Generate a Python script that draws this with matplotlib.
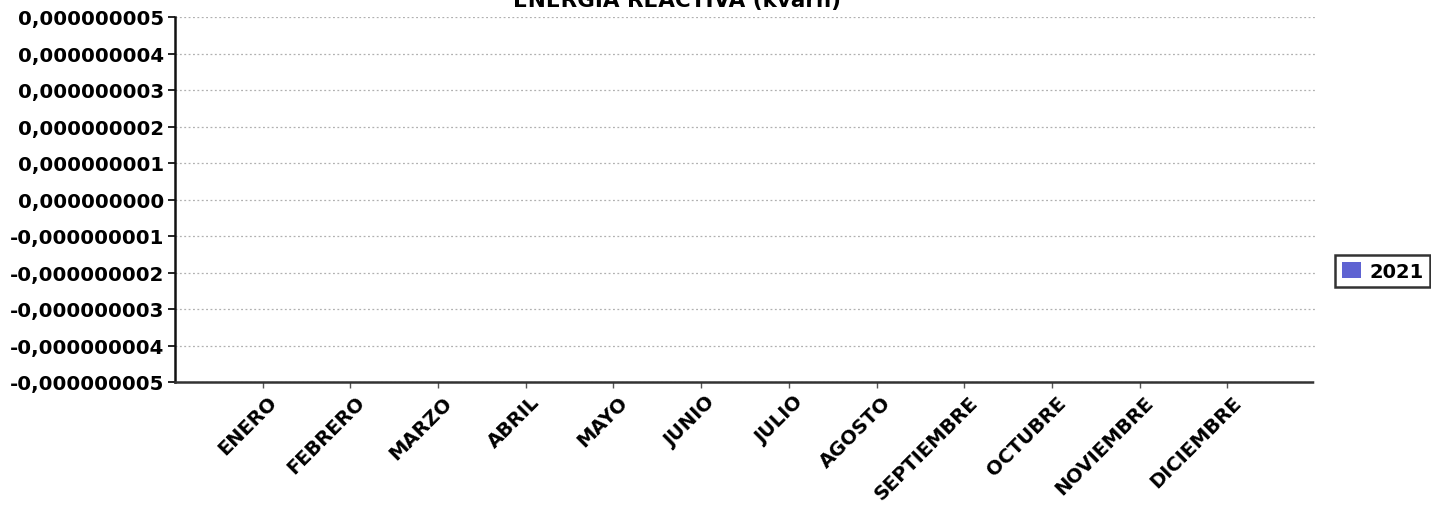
import numpy as np
from matplotlib import pyplot as plt
from matplotlib.ticker import FuncFormatter
import matplotlib.transforms as mtransforms

# ---------------------- data ----------------------
months = ['ENERO', 'FEBRERO', 'MARZO', 'ABRIL', 'MAYO', 'JUNIO', 'JULIO',
          'AGOSTO', 'SEPTIEMBRE', 'OCTUBRE', 'NOVIEMBRE', 'DICIEMBRE']
values_2021 = [0, 0, 0, 0, 0, 0, 0, 0, 0, 0, 0, 0]
y_ticks = [5e-9, 4e-9, 3e-9, 2e-9, 1e-9, 0, -1e-9, -2e-9, -3e-9, -4e-9, -5e-9]
series_name = '2021'
title = 'ENERGIA REACTIVA (kvarh)'

plt.rcParams['font.family'] = ['DejaVu Sans']
plt.rcParams['font.weight'] = 'bold'

W, H = 1431, 506
fig = plt.figure(figsize=(W / 100, H / 100), dpi=100)
# axes box in pixels: left 175, right 1315, top 18, bottom 383
ax = fig.add_axes([175 / W, 1 - 383 / H, (1315 - 175) / W, (383 - 18) / H])

x = np.arange(len(months))
ax.bar(x, values_2021, width=0.6, color='#5f63d2', label=series_name)

ax.set_xlim(-1, 12)
ax.set_ylim(-5e-9, 5e-9)
ax.set_yticks(y_ticks)


def fmt(v, pos):
    s = f'{v:.9f}'.replace('.', ',')
    if s == '-0,000000000':
        s = '0,000000000'
    return s


ax.yaxis.set_major_formatter(FuncFormatter(fmt))

# x labels: rotated 45 degrees, ending just right of / below each tick
ax.set_xticks(x)
ax.set_xticklabels([])
offset = mtransforms.ScaledTranslation(11 / 100, -17 / 100, fig.dpi_scale_trans)
for xi, name in zip(x, months):
    ax.text(xi, 0, name, transform=ax.get_xaxis_transform() + offset,
            rotation=45, ha='right', va='center', rotation_mode='anchor',
            fontsize=14, fontweight='bold')

ax.tick_params(axis='y', labelsize=14.25, length=5, width=1.2, pad=3)
ax.tick_params(axis='x', length=4, width=1, color='#555555')

# grid: dotted grey lines
ax.grid(axis='y', linestyle=(0, (1.5, 2)), color='#b0b0b0', linewidth=0.9)
ax.set_axisbelow(True)

for side in ['top', 'right']:
    ax.spines[side].set_visible(False)
ax.spines['left'].set_linewidth(1.8)
ax.spines['left'].set_color('#111111')
ax.spines['bottom'].set_linestyle((0, (3, 1)))
ax.spines['bottom'].set_linewidth(1.8)
ax.spines['bottom'].set_color('#333333')

fig.text(677 / W, 1 - 7 / H, title, ha='center', va='baseline',
         fontsize=15.5, fontweight='bold')

leg = fig.legend(loc='center left', bbox_to_anchor=(1335 / W, 1 - 272 / H),
                 borderaxespad=0, frameon=True, fancybox=False, fontsize=14,
                 handlelength=1.0, handleheight=0.9, handletextpad=0.4,
                 borderpad=0.35, edgecolor='black')
leg.get_frame().set_linewidth(1.8)

fig.savefig('out.png', dpi=100, facecolor='white')
